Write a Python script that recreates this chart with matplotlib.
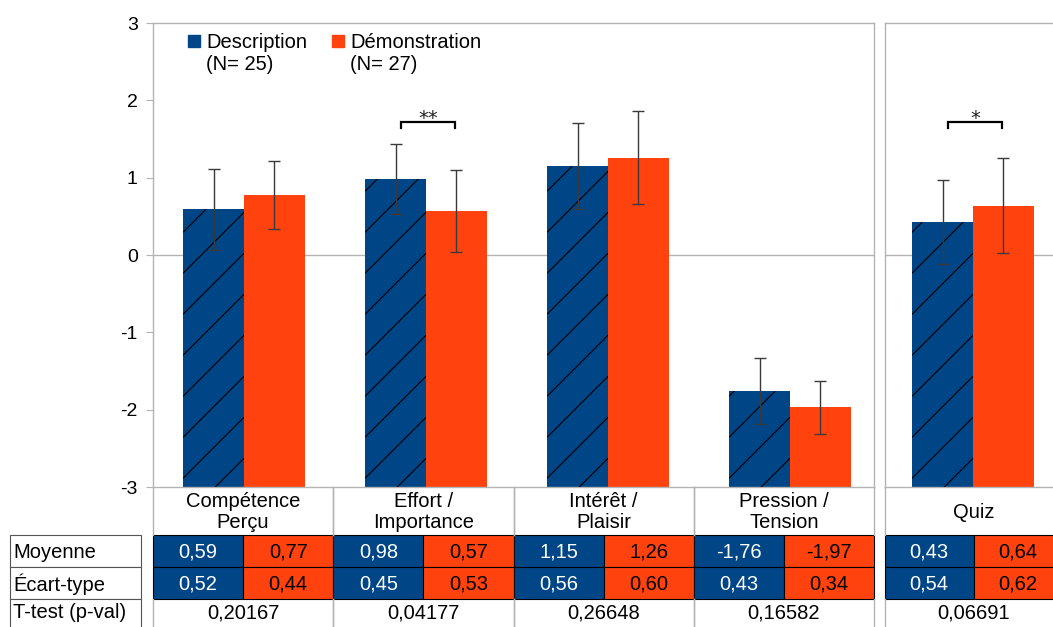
import numpy as np
import matplotlib
matplotlib.use('Agg')
import matplotlib.pyplot as plt
from matplotlib.patches import Rectangle
from matplotlib.collections import LineCollection

plt.rcParams['font.family'] = ['Liberation Sans', 'DejaVu Sans']
plt.rcParams['axes.unicode_minus'] = False

# data (last entry = Quiz, drawn in its own panel)
categories = ['Compétence\nPerçu', 'Effort /\nImportance', 'Intérêt /\nPlaisir', 'Pression /\nTension', 'Quiz']
desc_mean = [0.59, 0.98, 1.15, -1.76, 0.43]
demo_mean = [0.77, 0.57, 1.26, -1.97, 0.64]
desc_sd = [0.52, 0.45, 0.56, 0.43, 0.54]
demo_sd = [0.44, 0.53, 0.60, 0.34, 0.62]
pvals = ['0,20167', '0,04177', '0,26648', '0,16582', '0,06691']
signif = {1: '**', 4: '*'}
legend_labels = ['Description\n(N= 25)', 'Démonstration\n(N= 27)']
row_labels = ['Moyenne', 'Écart-type', 'T-test (p-val)']

BLUE = '#004586'
ORANGE = '#ff420e'
GRAY = '#b3b3b3'

W, H = 1053, 627
fig = plt.figure(figsize=(W / 100, H / 100), dpi=100)

def box(x0, y0, x1, y1):
    # pixel box (top-left origin) -> figure fraction rect
    return [x0 / W, 1 - y1 / H, (x1 - x0) / W, (y1 - y0) / H]

ax = fig.add_axes(box(153, 23, 874, 487))
axq = fig.add_axes(box(885, 23, 1062, 487))

bw = 0.335
px_x = 182.0            # pixels per x unit
px_y = (487 - 23) / 6.0  # pixels per y unit


def hatch(a, bars):
    k = px_x / px_y
    sp = 41 / px_y
    for b in bars:
        x0, y0 = b.get_xy()
        w, h = b.get_width(), b.get_height()
        segs = []
        c = y0 - k * w - sp * 0.3
        while c < y0 + h + sp:
            segs.append([(x0, c), (x0 + w, c + k * w)])
            c += sp
        lc = LineCollection(segs, colors='black', linewidths=0.8, zorder=3)
        a.add_collection(lc, autolim=False)
        lc.set_clip_path(b)


def bracket(a, xc, label):
    xl, xr = xc - 0.135, xc + 0.162
    yt, yb = (255 - 122) / px_y, (255 - 127.5) / px_y
    a.plot([xl, xl, xr, xr], [yb, yt, yt, yb], color='black', lw=1.6,
           solid_joinstyle='miter', zorder=5)
    a.text((xl + xr) / 2, yt - 0.03, label, ha='center', va='baseline',
           fontsize=14, family='DejaVu Sans', color='#222222')


def draw_panel(a, idx, xpos):
    xpos = np.array(xpos, dtype=float)
    dm = np.array([desc_mean[i] for i in idx])
    om = np.array([demo_mean[i] for i in idx])
    ds = [desc_sd[i] for i in idx]
    osd = [demo_sd[i] for i in idx]
    b1 = a.bar(xpos - bw / 2, dm + 3, bw, bottom=-3, color=BLUE, zorder=2)
    a.bar(xpos + bw / 2, om + 3, bw, bottom=-3, color=ORANGE, zorder=2)
    hatch(a, b1)
    a.errorbar(xpos - bw / 2, dm, yerr=ds, fmt='none', ecolor='#3a3a3a',
               elinewidth=1, capsize=4, capthick=1, zorder=4)
    a.errorbar(xpos + bw / 2, om, yerr=osd, fmt='none', ecolor='#3a3a3a',
               elinewidth=1, capsize=4, capthick=1, zorder=4)
    a.axhline(0, color=GRAY, lw=1, zorder=1)
    a.set_ylim(-3, 3)
    a.set_xticks([])
    for s in a.spines.values():
        s.set_color(GRAY)
        s.set_linewidth(1)
    for i, x in zip(idx, xpos):
        if i in signif:
            bracket(a, x, signif[i])


draw_panel(ax, [0, 1, 2, 3], [0, 1, 2, 3])
ax.set_xlim(-(244 - 153) / px_x, (874 - 244) / px_x)
ax.set_yticks(range(-3, 4))
ax.tick_params(axis='y', direction='out', length=5, color=GRAY, labelsize=14, pad=6)

draw_panel(axq, [4], [0])
axq.set_xlim(-(973 - 885) / px_x, (1062 - 973) / px_x)
axq.set_yticks([])

# overlay in pixel coordinates for legend and table
ov = fig.add_axes([0, 0, 1, 1])
ov.set_xlim(0, W)
ov.set_ylim(H, 0)
ov.axis('off')

# legend
for (sx, tx), lab, col in zip([(188, 206), (332, 350)], legend_labels, [BLUE, ORANGE]):
    ov.add_patch(Rectangle((sx, 35), 12, 12, color=col))
    ov.text(tx, 33, lab, ha='left', va='top', fontsize=14.5, linespacing=1.2)

# table columns
cols = [(153 + i * 180.25, 153 + (i + 1) * 180.25) for i in range(4)] + [(885, 1062)]
y_head, y_r1, y_r2, y_r3, y_end = 487, 535, 567, 599, 640

fmt = lambda v: f'{v:.2f}'.replace('.', ',')

for i, (x0, x1) in enumerate(cols):
    xm = (x0 + x1) / 2
    # header + p-value borders
    ov.plot([x0, x0], [y_head, y_r1], color=GRAY, lw=1)
    ov.plot([x1, x1], [y_head, y_r1], color=GRAY, lw=1)
    ov.plot([x0, x0], [y_r3, y_end], color=GRAY, lw=1)
    ov.plot([x1, x1], [y_r3, y_end], color=GRAY, lw=1)
    ov.text(xm, (y_head + y_r1) / 2 + 1, categories[i], ha='center', va='center',
            fontsize=14.5, linespacing=1.15)
    for (ya, yb), vals in zip([(y_r1, y_r2), (y_r2, y_r3)],
                              [(desc_mean[i], demo_mean[i]), (desc_sd[i], demo_sd[i])]):
        ov.add_patch(Rectangle((x0, ya), xm - x0, yb - ya, facecolor=BLUE,
                               edgecolor='black', lw=0.8))
        ov.add_patch(Rectangle((xm, ya), x1 - xm, yb - ya, facecolor=ORANGE,
                               edgecolor='black', lw=0.8))
        ov.text((x0 + xm) / 2, (ya + yb) / 2 + 1, fmt(vals[0]), ha='center', va='center',
                fontsize=14.5, color='white')
        ov.text((xm + x1) / 2, (ya + yb) / 2 + 1, fmt(vals[1]), ha='center', va='center',
                fontsize=14.5, color='black')
    ov.text(xm, 613, pvals[i], ha='center', va='center', fontsize=14.5)

# row labels
for lab, (ya, yb) in zip(row_labels, [(y_r1, y_r2), (y_r2, y_r3), (y_r3, y_end)]):
    ov.add_patch(Rectangle((10, ya), 131, yb - ya, facecolor='white',
                           edgecolor='#555555', lw=0.8))
    ty = (ya + yb) / 2 + 1 if yb != y_end else 613
    ov.text(13, ty, lab, ha='left', va='center', fontsize=14.5)

fig.savefig('out.png', dpi=100)
